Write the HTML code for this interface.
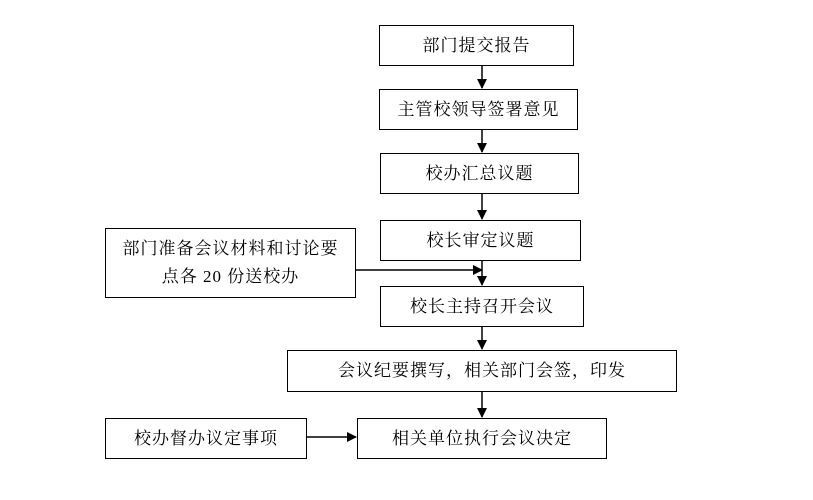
<!DOCTYPE html>
<html><head><meta charset="utf-8"><style>
body{margin:0;background:#fff;width:813px;height:500px;position:relative;overflow:hidden;font-family:"Liberation Serif","Noto Serif CJK SC","Noto Sans CJK SC",serif;color:#000}
.b{position:absolute;border:1px solid #000;box-sizing:border-box;display:flex;align-items:center;justify-content:center;text-align:center;font-size:17px;letter-spacing:1px;line-height:28px;background:#fff}
</style></head><body>
<svg width="813" height="500" style="position:absolute;left:0;top:0">
<defs><marker id="a" markerWidth="10" markerHeight="10" refX="9" refY="5" orient="auto" markerUnits="userSpaceOnUse"><path d="M0,0 L10,5 L0,10z" fill="#000"/></marker></defs>
<g stroke="#000" stroke-width="1.5" fill="none">
<line x1="482" y1="65" x2="482" y2="88" marker-end="url(#a)"/>
<line x1="482" y1="129" x2="482" y2="152" marker-end="url(#a)"/>
<line x1="482" y1="193" x2="482" y2="219" marker-end="url(#a)"/>
<line x1="482" y1="260" x2="482" y2="285" marker-end="url(#a)"/>
<line x1="355" y1="270" x2="482" y2="270" marker-end="url(#a)"/>
<line x1="482" y1="326" x2="482" y2="349" marker-end="url(#a)"/>
<line x1="482" y1="391" x2="482" y2="417" marker-end="url(#a)"/>
<line x1="306" y1="437" x2="356" y2="437" marker-end="url(#a)"/>
</g></svg>
<div class="b" style="left:379px;top:25px;width:195px;height:41px">部门提交报告</div>
<div class="b" style="left:379px;top:89px;width:199px;height:41px">主管校领导签署意见</div>
<div class="b" style="left:380px;top:153px;width:199px;height:41px">校办汇总议题</div>
<div class="b" style="left:380px;top:220px;width:201px;height:41px">校长审定议题</div>
<div class="b" style="left:105px;top:228px;width:251px;height:70px">部门准备会议材料和讨论要<br>点各 20 份送校办</div>
<div class="b" style="left:380px;top:286px;width:204px;height:41px">校长主持召开会议</div>
<div class="b" style="left:287px;top:350px;width:390px;height:42px">会议纪要撰写，相关部门会签，印发</div>
<div class="b" style="left:105px;top:418px;width:202px;height:41px">校办督办议定事项</div>
<div class="b" style="left:357px;top:418px;width:250px;height:41px">相关单位执行会议决定</div>
</body></html>
